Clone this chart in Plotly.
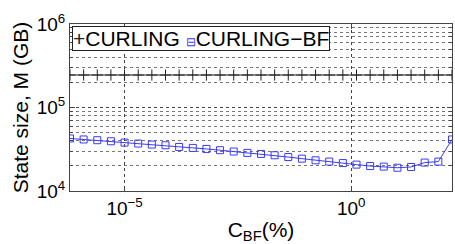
import plotly.graph_objects as go

# C_BF values (%)
c_bf = [6.25e-7, 1.25e-6, 2.5e-6, 5e-6, 1e-5, 2e-5, 4e-5, 8e-5, 1.6e-4, 3.2e-4,
        6.4e-4, 1.28e-3, 2.56e-3, 5.12e-3, 1.024e-2, 2.048e-2, 4.096e-2, 8.192e-2,
        0.16384, 0.32768, 0.65536, 1.31072, 2.62144, 5.24288, 10.48576, 20.97152,
        41.94304, 83.88608, 167.77216]

# State size (GB)
curling = [245000] * len(c_bf)
curling_bf = [42600, 41400, 40600, 39400, 38000, 37000, 36000, 35300, 33700, 32800,
              31900, 30800, 29700, 28600, 27800, 26800, 25500, 24400, 23300, 22500,
              21600, 20700, 19900, 19600, 19000, 19400, 21900, 22500, 41400]

series_names = ["CURLING", "CURLING−BF"]
x_tick_vals = [1e-5, 1e0]
x_tick_text = ["10<sup>−5</sup>", "10<sup>0</sup>"]
y_tick_vals = [1e4, 1e5, 1e6]
y_tick_text = ["10<sup>4</sup>", "10<sup>5</sup>", "10<sup>6</sup>"]
y_minor_vals = [m * 10 ** e for e in (4, 5) for m in range(2, 10)]

FONT = "Liberation Sans, Arial, Helvetica, sans-serif"
BLACK_LINE = "#222222"
BLUE = "#3a3aff"

fig = go.Figure()
fig.add_trace(go.Scatter(
    x=c_bf, y=curling, name=series_names[0], mode="lines+markers",
    line=dict(color=BLACK_LINE, width=1),
    marker=dict(symbol="cross-thin-open", size=8, line=dict(color=BLACK_LINE, width=1)),
    showlegend=False,
))
fig.add_trace(go.Scatter(
    x=c_bf, y=curling_bf, name=series_names[1], mode="lines+markers",
    line=dict(color=BLUE, width=1),
    marker=dict(symbol="square-open", size=7, color=BLUE, line=dict(color=BLUE, width=1)),
    showlegend=False,
))

axis_common = dict(
    type="log", showline=True, linecolor="#444444", linewidth=1, mirror="ticks",
    ticks="inside", ticklen=5, tickcolor="#444444",
    showgrid=True, gridcolor="#444444", griddash="dot", gridwidth=1,
    zeroline=False, tickfont=dict(family=FONT, size=19, color="black"),
)

fig.update_xaxes(
    **axis_common,
    range=[-6.204, 2.2249],
    tickvals=x_tick_vals, ticktext=x_tick_text,
    title=dict(text="C<sub>BF</sub>(%)", font=dict(family=FONT, size=21, color="black"), standoff=4),
)
fig.update_yaxes(
    **axis_common,
    range=[4, 6],
    tickvals=y_tick_vals, ticktext=y_tick_text,
    minor=dict(tickvals=y_minor_vals, showgrid=True, gridcolor="#777777", griddash="dot",
               ticks="inside", ticklen=3, tickcolor="#444444"),
    title=dict(text="State size, M (GB)", font=dict(family=FONT, size=21, color="black"), standoff=2),
)

# legend box drawn as an annotation (MATLAB style compact legend)
legend_text = ("<span style='color:#222222'>+</span>" + series_names[0] +
               " <span style='color:" + BLUE + ";font-size:12px'>⊟</span>" + series_names[1])
fig.add_annotation(
    text=legend_text, xref="paper", yref="paper", x=0.004, y=0.987,
    xanchor="left", yanchor="top", showarrow=False, align="left",
    font=dict(family=FONT, size=21, color="black"),
    bgcolor="white", bordercolor="#222222", borderwidth=1, borderpad=0,
)

fig.update_layout(
    width=455, height=244,
    margin=dict(l=70, r=3, t=24, b=53),
    paper_bgcolor="white", plot_bgcolor="white",
    font=dict(family=FONT, color="black"),
    showlegend=False,
)

fig.write_html("out.html", config={"displayModeBar": False},
               post_script="document.body.style.margin='0px';")
